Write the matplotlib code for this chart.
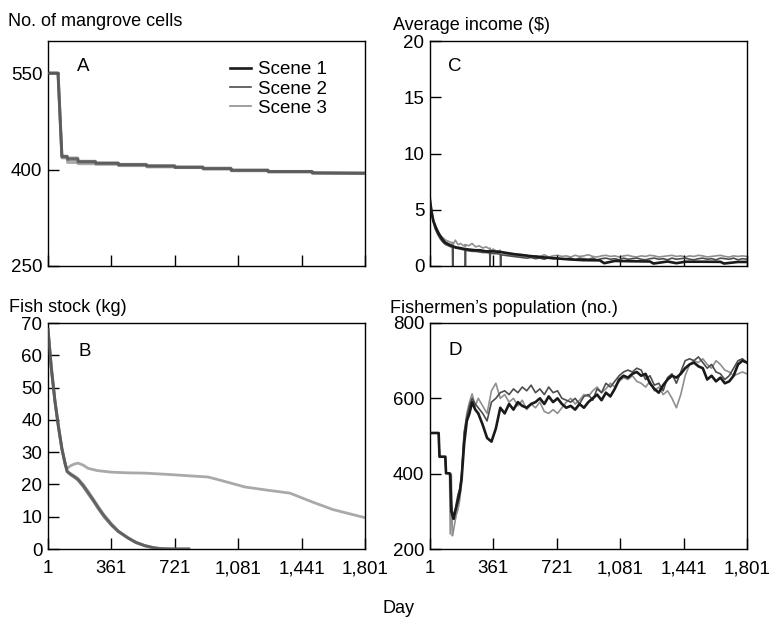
import matplotlib
matplotlib.use("Agg")
import matplotlib.pyplot as plt

plt.rcParams['font.family'] = ['Liberation Sans', 'DejaVu Sans']

W, H = 775, 617
FS = 13.5
FS_T = 13

# ---------------- data ----------------
x_ticks = [1, 361, 721, 1081, 1441, 1801]
x_ticklabels = ['1', '361', '721', '1,081', '1,441', '1,801']
scene_labels = ['Scene 1', 'Scene 2', 'Scene 3']

# Panel A: number of mangrove cells
a_days = [1, 58, 80, 110, 112, 170, 172, 270, 272, 400, 402, 560, 562, 720, 722,
          880, 882, 1040, 1042, 1250, 1252, 1500, 1502, 1801]
a_scene1 = [550, 550, 420, 420, 416, 416, 412, 412, 410, 410, 408, 408, 406, 406,
            404, 404, 402, 402, 399, 399, 397, 397, 395, 394]
a_scene2 = [550, 550, 421, 421, 418, 418, 413, 413, 410, 410, 407, 407, 405, 405,
            403, 403, 401, 401, 399, 399, 397, 397, 395, 395]
a_scene3 = [550, 550, 418, 418, 411, 411, 409, 409, 408, 408, 406, 406, 404, 404,
            403, 403, 401, 401, 398, 398, 396, 396, 394, 394]

# Panel B: fish stock (kg)
b_days12 = [1, 20, 40, 60, 80, 100, 110, 130, 150, 171, 200, 228, 260, 285, 320,
            361, 400, 455, 500, 550, 600, 640, 700, 800]
b_scene1 = [68, 56, 46, 38, 31, 26, 24, 23, 22.3, 21.4, 19.5, 17.3, 14.8, 12.7, 10,
            7.4, 5.4, 3.4, 2.0, 1.0, 0.4, 0.1, 0, 0]
b_scene2 = [68, 56, 46, 38, 31, 26, 24, 23.3, 22.6, 21.8, 20, 17.9, 15.3, 13.2, 10.5,
            7.8, 5.6, 3.5, 2.1, 1.1, 0.4, 0.1, 0, 0]
b_days3 = [1, 20, 40, 60, 80, 100, 110, 130, 150, 171, 200, 228, 280, 361, 450, 550,
           650, 740, 850, 910, 1000, 1120, 1250, 1375, 1500, 1620, 1801]
b_scene3 = [68, 56, 46, 38, 31, 26, 25, 25.8, 26.3, 26.6, 26, 25, 24.3, 23.8, 23.6,
            23.5, 23.2, 22.9, 22.5, 22.3, 21, 19.2, 18.2, 17.3, 14.6, 12.2, 9.7]

# Panel C: average income ($)
c_days1 = [1, 10, 20, 35, 50, 70, 86, 110, 130, 150, 171, 200, 230, 260, 285, 320,
           361, 400, 440, 480, 512, 560, 625, 680, 740, 800, 870, 965, 990, 1050,
           1150, 1250, 1270, 1350, 1400, 1450, 1550, 1650, 1670, 1750, 1801]
c_scene1 = [5.8, 4.8, 4.0, 3.4, 2.9, 2.4, 2.1, 1.9, 1.75, 1.65, 1.6, 1.5, 1.45, 1.4,
            1.4, 1.3, 1.3, 1.25, 1.15, 1.05, 1.0, 0.9, 0.8, 0.72, 0.65, 0.58, 0.52,
            0.5, 0.25, 0.45, 0.42, 0.4, 0.22, 0.4, 0.25, 0.38, 0.38, 0.37, 0.22,
            0.36, 0.36]
c_days23 = [1, 10, 20, 30, 45, 60, 75, 90, 105, 120, 128, 130, 132, 145, 160, 175,
            190, 200, 202, 204, 220, 240, 260, 280, 300, 320, 340, 342, 344, 360,
            380, 400, 402, 404, 425, 450, 475,
            500, 525, 550, 575, 600, 625, 650, 675, 700, 725, 750, 775, 800, 825,
            850, 875, 900, 925, 950, 975, 1000, 1025, 1050, 1075, 1100, 1125, 1150,
            1175, 1200, 1225, 1250, 1275, 1300, 1325, 1350, 1375, 1400, 1425, 1450,
            1475, 1500, 1525, 1550, 1575, 1600, 1625, 1650, 1675, 1700, 1725, 1750,
            1775, 1801]
c_scene2 = [5.6, 4.6, 3.9, 3.3, 2.8, 2.4, 2.1, 1.9, 1.8, 1.7, 1.7, 0.0, 1.7, 1.6,
            1.55, 1.5, 1.45, 1.4, 0.0, 1.4, 1.35, 1.3, 1.3, 1.25, 1.2, 1.2, 1.15,
            0.0, 1.15, 1.1, 1.1, 1.05, 0.0, 1.0, 0.95, 0.9, 0.85,
            0.8, 0.75, 0.7, 0.75, 0.65, 0.7, 0.6, 0.75, 0.65, 0.7, 0.6, 0.65, 0.7,
            0.55, 0.7, 0.65, 0.6, 0.7, 0.55, 0.65, 0.7, 0.6, 0.65, 0.55, 0.7, 0.6,
            0.65, 0.7, 0.6, 0.55, 0.65, 0.7, 0.6, 0.65, 0.55, 0.7, 0.6, 0.65, 0.7,
            0.6, 0.55, 0.65, 0.7, 0.6, 0.65, 0.55, 0.7, 0.65, 0.6, 0.7, 0.55, 0.65,
            0.6]
c_scene3 = [6.3, 5.0, 4.2, 3.6, 3.1, 2.7, 2.5, 2.3, 2.2, 2.1, 2.0, 2.1, 1.9, 2.3,
            1.9, 2.0, 1.8, 1.9, 1.7, 1.9, 1.8, 2.0, 1.7, 1.8, 1.6, 1.7, 1.5, 1.6,
            1.4, 1.5, 1.3, 1.4, 1.2, 1.25, 1.1, 1.0, 0.95,
            0.9, 0.85, 0.95, 0.8, 0.9, 0.85, 1.0, 0.8, 0.9, 0.95, 0.85, 0.9, 0.8,
            0.95, 0.85, 0.9, 1.0, 0.85, 0.8, 0.9, 0.95, 0.85, 0.9, 0.8, 0.9, 0.95,
            0.85, 0.8, 0.9, 0.85, 0.95, 0.9, 0.8, 0.85, 0.9, 0.95, 0.85, 0.9, 0.8,
            0.9, 0.85, 0.95, 0.9, 0.8, 0.85, 0.9, 0.95, 0.85, 0.8, 0.9, 0.85, 0.9,
            0.85]

# Panel D: fishermen's population (no.)
d_days = [1, 50, 55, 88, 92, 112, 116, 122, 128, 135, 142, 150, 160, 170, 180, 195,
          210, 225, 240, 258, 275] + list(range(300, 1801, 25))
d_scene1 = [508, 508, 445, 445, 401, 401, 395, 300, 290, 280, 295, 310, 330, 350,
            383, 480, 540, 560, 590, 570, 560,
            530, 495, 485, 520, 575, 560, 585, 570, 590, 580, 575, 585, 590, 600,
            585, 605, 590, 600, 585, 575, 580, 570, 585, 575, 590, 600, 610, 595,
            615, 605, 625, 650, 660, 655, 665, 670, 660, 665, 640, 625, 615, 635,
            650, 660, 655, 665, 680, 690, 695, 685, 680, 650, 660, 645, 655, 640,
            645, 660, 690, 700, 695]
d_scene2 = [508, 508, 445, 445, 401, 401, 398, 320, 300, 290, 300, 320, 345, 360,
            400, 510, 550, 580, 600, 585, 575,
            560, 540, 590, 600, 615, 620, 610, 625, 615, 630, 620, 635, 615, 625,
            610, 630, 615, 620, 600, 595, 590, 600, 585, 605, 610, 595, 625, 615,
            640, 630, 645, 660, 670, 675, 670, 680, 675, 650, 660, 635, 640, 620,
            655, 665, 640, 670, 700, 705, 700, 710, 695, 680, 690, 670, 665, 650,
            660, 680, 700, 705, 695]
d_scene3 = [508, 508, 445, 445, 401, 401, 240, 400, 235, 250, 270, 290, 305, 330,
            383, 505, 560, 590, 612, 580, 600,
            580, 560, 620, 640, 600, 610, 590, 600, 580, 595, 570, 585, 575, 590,
            565, 560, 570, 560, 575, 590, 600, 585, 595, 610, 605, 620, 630, 615,
            625, 640, 630, 645, 655, 650, 660, 645, 640, 630, 645, 620, 630, 610,
            620, 600, 575, 610, 660, 690, 700, 695, 705, 690, 680, 700, 690, 675,
            670, 660, 665, 670, 665]

# ---------------- styling ----------------
styles = [dict(color='#1a1a1a', lw=1.9, zorder=3),
          dict(color='#4d4d4d', lw=1.2, zorder=2),
          dict(color='#8f8f8f', lw=1.2, zorder=1)]
soft = [dict(color='#555555', lw=2.2, zorder=3, alpha=0.8),
        dict(color='#707070', lw=2.0, zorder=2, alpha=0.8),
        dict(color='#a0a0a0', lw=2.0, zorder=1, alpha=0.9)]

fig = plt.figure(figsize=(W / 100, H / 100), dpi=100)


def make_ax(left, top, right, bottom):
    return fig.add_axes([left / W, 1 - bottom / H, (right - left) / W, (bottom - top) / H])


axA = make_ax(48, 41, 365, 266)
axC = make_ax(430, 41, 747, 266)
axB = make_ax(48, 323, 365, 549)
axD = make_ax(430, 323, 747, 549)

for ax in (axA, axC, axB, axD):
    ax.set_xlim(1, 1801)
    ax.set_xticks(x_ticks)
    ax.tick_params(direction='in', length=8, width=1.0, labelsize=FS, colors='black')
    ax.tick_params(axis='y', pad=4)
    ax.tick_params(axis='x', pad=8)
    for s in ax.spines.values():
        s.set_linewidth(1.0)
        s.set_color('black')

for ax in (axA, axC):
    ax.set_xticklabels([])
for ax in (axB, axD):
    ax.set_xticklabels(x_ticklabels)

# A
axA.plot(a_days, a_scene3, **soft[2])
axA.plot(a_days, a_scene2, **soft[1])
axA.plot(a_days, a_scene1, **soft[0])
axA.set_ylim(250, 600)
axA.set_yticks([250, 400, 550])

# B
axB.plot(b_days3, b_scene3, **soft[2])
axB.plot(b_days12, b_scene2, **soft[1])
axB.plot(b_days12, b_scene1, **soft[0])
axB.set_ylim(0, 70)
axB.set_yticks(range(0, 71, 10))

# C
axC.plot(c_days23, c_scene3, **styles[2])
axC.plot(c_days23, c_scene2, **styles[1])
axC.plot(c_days1, c_scene1, **styles[0])
axC.set_ylim(0, 20)
axC.set_yticks([0, 5, 10, 15, 20])

# D
axD.plot(d_days, d_scene3, **styles[2])
axD.plot(d_days, d_scene2, **styles[1])
axD.plot(d_days, d_scene1, **styles[0])
axD.set_ylim(200, 800)
axD.set_yticks([200, 400, 600, 800])

# legend in A
handles = [plt.Line2D([], [], **{k: v for k, v in st.items() if k != 'zorder'})
           for st in styles]
leg = axA.legend(handles, scene_labels, loc='upper left',
                 bbox_to_anchor=(230 / W, 1 - 61 / H), bbox_transform=fig.transFigure,
                 frameon=False, fontsize=FS, handlelength=1.1, handletextpad=0.4,
                 labelspacing=0.12, borderpad=0, borderaxespad=0)


def ftext(x, y, s, size=FS, **kw):
    fig.text(x / W, 1 - y / H, s, fontsize=size, va='baseline', ha='left', **kw)


ftext(8, 26, 'No. of mangrove cells', FS_T)
ftext(393, 30, 'Average income ($)', FS_T)
ftext(9, 312, 'Fish stock (kg)', FS_T)
ftext(390, 313, 'Fishermen\u2019s population (no.)', FS_T)

ftext(77, 71, 'A')
ftext(448, 71, 'C')
ftext(78, 356, 'B')
ftext(448, 355, 'D')

ftext(383, 613, 'Day', FS_T)

fig.savefig('out.png', dpi=100)
